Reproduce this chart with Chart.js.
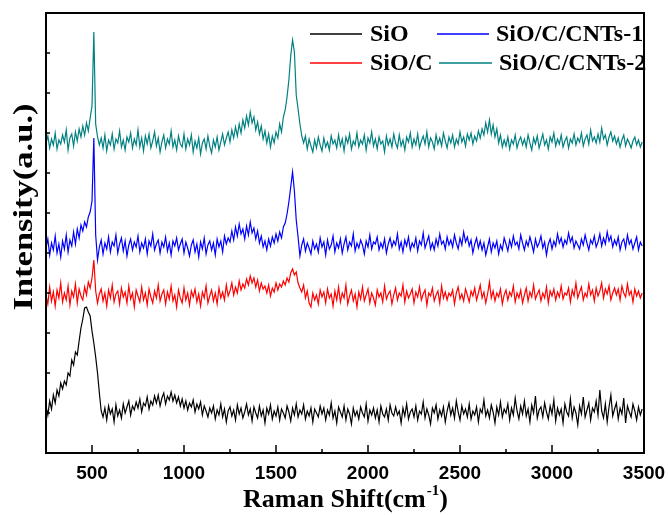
<!DOCTYPE html>
<html>
<head>
<meta charset="utf-8">
<script src="https://cdn.jsdelivr.net/npm/chart.js@4.4.1/dist/chart.umd.min.js"></script>
<style>
    html, body { margin: 0; padding: 0; background: #fff; }
</style>
</head>
<body>
<canvas id="ramanChart" width="668" height="515"></canvas>
<script>
// Raman shift sampling: one reading every 10 cm-1 starting at 250 cm-1
var shiftStart = 250;
var shiftStep = 10;
var seriesNames = ['SiO', 'SiO/C', 'SiO/C/CNTs-1', 'SiO/C/CNTs-2'];
var seriesColors = ['#000000', '#ff0000', '#0000ff', '#008080'];

// intensities (a.u., stacked offsets as plotted), 10 readings per row = 100 cm-1
var sio = [
    47,38,52,44,58,50,63,57,70,64,
    72,68,80,77,93,88,101,98,112,125,
    134,145,146,141,137,122,110,96,80,60,
    42,36,45,33,47,39,44,31,48,37,
    43,35,49,40,46,52,38,47,43,51,
    45,54,41,50,47,56,44,52,48,57,
    50,58,47,55,60,49,57,53,61,52,
    58,50,56,47,54,45,52,43,50,46,
    53,41,49,44,51,38,47,42,36,45,
    40,47,34,43,38,49,36,44,31,42,
    46,37,43,33,48,39,45,35,41,49,
    38,44,32,46,40,35,47,37,43,30,
    45,39,48,34,42,37,46,33,44,40,
    35,47,41,32,45,38,49,36,43,39,
    48,34,42,37,45,31,44,40,36,47,
    39,45,33,43,38,50,35,42,30,46,
    41,36,47,33,44,39,29,45,37,42,
    34,46,40,36,49,32,43,38,45,35,
    43,31,47,39,36,44,33,48,40,37,
    46,38,42,30,45,37,49,34,41,44,
    36,47,33,42,39,51,35,44,38,29,
    45,40,48,34,43,37,46,31,42,50,
    38,45,35,52,41,33,47,39,44,36,
    49,34,42,38,46,31,44,40,53,37,
    43,35,48,41,30,46,38,51,36,44,
    40,49,33,45,38,55,42,34,47,39,
    52,37,44,31,48,40,57,35,43,46,
    36,50,41,34,47,39,53,32,45,38,
    44,30,49,41,37,54,35,46,40,28,
    47,39,56,36,43,50,33,45,41,52,
    38,63,42,35,49,31,46,58,37,44,
    50,34,45,39,55,30,47,41,36,49,
    42,33,46,38,44
];

var sioC = [
    158,149,166,152,161,147,163,155,170,151,
    160,153,167,148,162,156,169,150,164,157,
    153,166,158,171,165,175,193,162,150,159,
    164,152,160,147,163,155,168,151,159,162,
    149,165,156,161,150,167,154,160,146,163,
    157,151,166,153,160,148,164,156,150,162,
    155,168,152,159,163,149,161,154,167,152,
    158,146,163,155,150,165,153,160,148,162,
    156,164,151,159,147,161,155,167,150,157,
    163,152,160,149,165,155,161,153,168,157,
    162,170,158,166,160,172,163,169,165,174,
    168,177,170,175,166,173,162,170,164,167,
    160,168,157,165,161,170,163,169,166,172,
    168,175,171,180,184,178,181,170,165,161,
    168,155,162,150,146,160,153,158,149,163,
    156,161,150,164,155,159,147,162,153,166,
    151,160,155,168,149,157,163,152,159,146,
    161,154,166,152,158,164,150,160,155,148,
    163,156,160,151,167,154,159,162,149,158,
    165,153,160,157,168,151,162,155,159,164,
    150,161,156,166,153,159,163,148,160,157,
    165,152,158,162,150,167,155,161,153,160,
    157,163,149,160,166,154,159,152,164,158,
    151,162,157,165,153,160,168,155,161,150,
    159,171,155,162,152,160,156,164,149,158,
    163,153,161,157,167,151,160,155,163,150,
    158,165,152,161,156,168,154,159,163,152,
    160,155,166,150,162,157,164,153,161,156,
    167,154,160,158,165,151,163,157,170,155,
    161,166,153,160,156,169,158,163,152,165,
    157,162,170,155,164,159,167,153,160,165,
    158,164,153,167,160,156,169,158,162,151,
    164,157,162,155,160
];

var cnts1 = [
    205,214,198,210,203,217,200,209,196,212,
    204,218,201,213,207,221,209,224,215,228,
    222,231,226,236,241,252,315,218,193,206,
    213,199,210,204,216,201,211,207,218,200,
    209,215,202,212,197,208,214,203,211,206,
    217,201,210,205,214,199,212,207,219,203,
    209,213,200,211,206,216,202,210,198,212,
    207,215,203,209,214,200,211,205,197,208,
    213,201,209,196,211,204,215,199,208,212,
    203,210,198,214,206,212,201,217,209,215,
    211,222,213,226,217,229,219,224,214,227,
    218,231,220,225,214,222,210,217,206,212,
    203,214,207,216,210,219,212,221,215,226,
    230,239,251,266,281,262,233,216,197,208,
    214,202,210,205,199,212,204,209,201,215,
    206,211,198,213,204,208,217,201,210,205,
    214,200,209,216,203,211,207,219,202,210,
    205,213,208,199,212,206,218,204,211,209,
    216,203,210,205,214,200,209,215,206,212,
    208,219,204,211,201,213,207,216,203,210,
    206,215,202,212,208,220,205,211,217,204,
    210,203,214,207,219,209,212,204,216,208,
    213,206,218,210,204,215,208,221,211,216,
    207,213,200,209,215,205,212,203,210,198,
    206,214,201,210,205,212,199,208,203,215,
    209,202,213,206,217,208,211,204,218,210,
    203,212,207,216,209,201,214,206,210,217,
    205,211,198,209,214,204,212,207,219,210,
    215,206,213,209,220,211,216,205,212,208,
    204,214,208,218,210,203,213,209,217,206,
    211,219,207,215,209,221,212,217,206,213,
    208,216,203,211,214,205,218,209,213,204,
    210,216,203,211,207
];

var cnts2 = [
    310,317,305,314,308,320,304,313,309,318,
    311,323,303,315,319,307,321,312,324,316,
    327,318,330,322,335,347,421,329,316,308,
    315,305,318,302,313,308,319,304,314,310,
    322,306,313,303,316,311,320,305,314,308,
    323,306,315,302,317,309,319,305,312,321,
    307,315,301,311,318,305,314,309,322,306,
    313,303,317,309,306,319,304,314,308,318,
    301,312,305,315,299,310,314,304,317,307,
    300,313,306,316,303,311,319,308,315,321,
    311,323,315,326,317,329,320,333,325,337,
    328,341,330,336,323,331,319,327,314,322,
    310,319,306,317,310,321,315,329,321,336,
    343,356,373,397,413,401,358,344,329,317,
    310,317,304,314,307,301,313,305,316,308,
    302,315,306,311,303,317,309,313,305,318,
    307,314,302,316,310,319,304,312,308,320,
    306,313,309,318,303,315,310,321,307,314,
    304,316,309,312,301,317,308,314,306,319,
    310,305,318,307,313,303,316,311,320,306,
    314,308,319,305,312,317,309,321,306,315,
    311,304,318,309,315,307,320,312,305,316,
    310,318,306,314,309,321,311,316,307,319,
    313,320,309,317,312,322,315,324,318,330,
    321,333,319,328,316,324,310,318,306,313,
    307,316,304,313,309,318,305,312,316,308,
    314,306,318,310,303,315,309,317,305,312,
    319,308,313,304,316,311,320,307,314,309,
    318,306,312,316,305,314,310,319,308,315,
    311,320,307,314,318,309,323,312,316,310,
    319,311,325,314,318,308,316,321,312,317,
    309,315,306,313,318,307,314,310,305,312,
    316,308,313,306,311
];

var allSeries = [sio, sioC, cnts1, cnts2];

function toPoints(values) {
    return values.map(function (v, i) {
        return { x: shiftStart + i * shiftStep, y: v };
    });
}

var serifBold = 'bold 24px "Liberation Serif", "Times New Roman", serif';

// frame, inward ticks, axis titles and the two-column legend
var decorations = {
    id: 'decorations',
    afterDraw: function (chart) {
        var ctx = chart.ctx;
        var a = chart.chartArea;
        var xs = chart.scales.x;
        var ys = chart.scales.y;
        ctx.save();
        ctx.strokeStyle = '#000';
        ctx.lineWidth = 2;
        ctx.strokeRect(a.left, a.top, a.right - a.left, a.bottom - a.top);

        ctx.lineWidth = 1.5;
        ctx.beginPath();
        xs.ticks.forEach(function (t) {
            var px = Math.round(xs.getPixelForValue(t.value));
            var len = t.value % 500 === 0 ? 8 : 4;
            ctx.moveTo(px, a.bottom);
            ctx.lineTo(px, a.bottom - len);
        });
        ys.ticks.forEach(function (t) {
            var py = Math.round(ys.getPixelForValue(t.value));
            ctx.moveTo(a.left, py);
            ctx.lineTo(a.left + 4, py);
        });
        ctx.stroke();

        // x title with superscript
        ctx.fillStyle = '#000';
        ctx.textBaseline = 'alphabetic';
        ctx.textAlign = 'left';
        var main = 'Raman Shift(cm';
        var sup = '-1';
        ctx.font = 'bold 26px "Liberation Serif", serif';
        var wMain = ctx.measureText(main).width;
        var wClose = ctx.measureText(')').width;
        ctx.font = 'bold 15px "Liberation Serif", serif';
        var wSup = ctx.measureText(sup).width;
        var total = wMain + wSup + wClose;
        var x0 = 345 - total / 2;
        var base = 507;
        ctx.font = 'bold 26px "Liberation Serif", serif';
        ctx.fillText(main, x0, base);
        ctx.fillText(')', x0 + wMain + wSup + 1, base);
        ctx.font = 'bold 15px "Liberation Serif", serif';
        ctx.fillText(sup, x0 + wMain + 1, base - 12);

        // y title, stretched along its length like the original
        ctx.save();
        ctx.translate(25, 207);
        ctx.rotate(-Math.PI / 2);
        ctx.font = 'bold 28px "Liberation Serif", serif';
        var yt = 'Intensity(a.u.)';
        var wy = ctx.measureText(yt).width;
        ctx.scale(207 / wy, 1);
        ctx.textAlign = 'center';
        ctx.textBaseline = 'middle';
        ctx.fillText(yt, 0, 0);
        ctx.restore();

        // legend: column-major, two rows
        var slots = [
            { line: [310, 362], text: 370, y: 34 },
            { line: [310, 362], text: 370, y: 63 },
            { line: [437, 489], text: 496, y: 34 },
            { line: [439, 492], text: 499, y: 63 }
        ];
        ctx.font = serifBold;
        ctx.textBaseline = 'middle';
        ctx.textAlign = 'left';
        chart.data.datasets.forEach(function (ds, i) {
            var s = slots[i];
            ctx.strokeStyle = ds.borderColor;
            ctx.lineWidth = 1.5;
            ctx.beginPath();
            ctx.moveTo(s.line[0], s.y);
            ctx.lineTo(s.line[1], s.y);
            ctx.stroke();
            ctx.fillStyle = '#000';
            ctx.fillText(ds.label, s.text, s.y + 1);
        });
        ctx.restore();
    }
};

var ctx1 = document.getElementById('ramanChart').getContext('2d');
new Chart(ctx1, {
    type: 'line',
    data: {
        datasets: allSeries.map(function (vals, i) {
            return {
                label: seriesNames[i],
                data: toPoints(vals),
                borderColor: seriesColors[i],
                backgroundColor: seriesColors[i],
                borderWidth: 1.2,
                pointRadius: 0,
                tension: 0,
                fill: false
            };
        })
    },
    options: {
        responsive: false,
        animation: false,
        layout: { padding: { top: 13, right: 24, left: 0, bottom: 0 } },
        plugins: {
            legend: { display: false },
            tooltip: { enabled: false }
        },
        scales: {
            x: {
                type: 'linear',
                min: 250,
                max: 3500,
                grid: { display: false, drawTicks: false },
                border: { display: false },
                ticks: {
                    stepSize: 250,
                    autoSkip: false,
                    maxRotation: 0,
                    padding: 9,
                    color: '#000',
                    font: { family: '"Liberation Sans", Arial, sans-serif', weight: 'bold', size: 19 },
                    callback: function (v) { return v % 500 === 0 ? v : ''; }
                },
                afterFit: function (scale) {
                    scale.height = 62;
                    scale.paddingLeft = 0;
                    scale.paddingRight = 0;
                }
            },
            y: {
                min: 0,
                max: 440,
                grid: { display: false, drawTicks: false },
                border: { display: false },
                ticks: { display: false, stepSize: 40 },
                afterFit: function (scale) { scale.width = 46; }
            }
        }
    },
    plugins: [decorations]
});
</script>
</body>
</html>
